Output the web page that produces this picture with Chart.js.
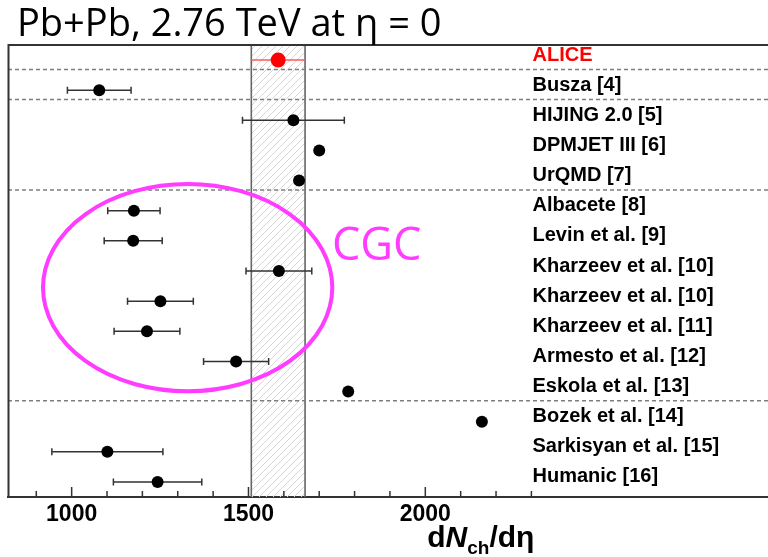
<!DOCTYPE html>
<html>
<head>
<meta charset="utf-8">
<title>dNch/deta at LHC</title>
<script src="https://cdn.jsdelivr.net/npm/chart.js@4.4.1/dist/chart.umd.min.js"></script>
<style>
  html, body { margin: 0; padding: 0; background: #fff; }
  #wrap { position: relative; width: 768px; height: 557px; }
</style>
</head>
<body>
<div id="wrap"><canvas id="dndeta-chart"></canvas></div>
<script>
/* global Chart */
// measurement first, then model predictions (top to bottom)
var models = ['ALICE', 'Busza [4]', 'HIJING 2.0 [5]', 'DPMJET III [6]', 'UrQMD [7]',
  'Albacete [8]', 'Levin et al. [9]', 'Kharzeev et al. [10]', 'Kharzeev et al. [10]',
  'Kharzeev et al. [11]', 'Armesto et al. [12]', 'Eskola et al. [13]',
  'Bozek et al. [14]', 'Sarkisyan et al. [15]', 'Humanic [16]'];
var dndeta = [1584, 1078, 1627, 1700, 1643, 1176, 1174, 1586, 1251, 1213, 1465, 1782, 2160, 1101, 1243];
var dndetaErr = [76, 90, 144, 0, 0, 74, 82, 93, 93, 93, 92, 0, 0, 157, 125];
var groupEnds = [0, 1, 4, 11];          // dashed separator under these rows
var majorTicks = [1000, 1500, 2000];
var tickRange = [900, 2300];
var titleText = 'Pb+Pb, 2.76 TeV at \u03b7 = 0';
var cgcText = 'CGC';
var cgcRegion = { x: 1328, y: 7.55, rx: 409, ry: 3.44 };   // in axis units

(function (root) {
  'use strict';
  var RED = '#ff0000';
  var MAGENTA = '#ff3cff';
  var LABEL_FONT = 'bold 20px "Liberation Sans", Arial, sans-serif';

  function hatchPattern(ctx) {
    var c = document.createElement('canvas');
    c.width = 7; c.height = 7;
    var g = c.getContext('2d');
    g.strokeStyle = '#d6d6d6';
    g.lineWidth = 1;
    g.beginPath();
    g.moveTo(-1, 8); g.lineTo(8, -1);
    g.stroke();
    return ctx.createPattern(c, 'repeat');
  }

  var overlay = {
    id: 'overlay',
    beforeDatasetsDraw: function (chart) {
      var ctx = chart.ctx, a = chart.chartArea, xs = chart.scales.x, ys = chart.scales.y;
      var bl = xs.getPixelForValue(dndeta[0] - dndetaErr[0]);
      var br = xs.getPixelForValue(dndeta[0] + dndetaErr[0]);
      ctx.save();
      // ALICE systematic band
      ctx.fillStyle = hatchPattern(ctx);
      ctx.fillRect(bl, a.top, br - bl, a.bottom - a.top);
      ctx.strokeStyle = '#666';
      ctx.lineWidth = 1.6;
      ctx.beginPath();
      ctx.moveTo(bl, a.top); ctx.lineTo(bl, a.bottom);
      ctx.moveTo(br, a.top); ctx.lineTo(br, a.bottom);
      ctx.stroke();
      // group separators
      ctx.setLineDash([4, 3]);
      ctx.strokeStyle = '#7e7e7e';
      ctx.lineWidth = 1.5;
      groupEnds.forEach(function (r) {
        var y = ys.getPixelForValue(r + 0.31);
        ctx.beginPath(); ctx.moveTo(a.left, y); ctx.lineTo(a.right, y); ctx.stroke();
      });
      ctx.setLineDash([]);
      // horizontal error bars
      dndeta.forEach(function (v, i) {
        var e = dndetaErr[i];
        if (!e) { return; }
        var y = ys.getPixelForValue(i);
        var x0 = xs.getPixelForValue(v - e), x1 = xs.getPixelForValue(v + e);
        ctx.strokeStyle = i === 0 ? '#ff5a5a' : '#333';
        ctx.lineWidth = 1.5;
        ctx.beginPath();
        ctx.moveTo(x0, y); ctx.lineTo(x1, y);
        if (i !== 0) {
          ctx.moveTo(x0, y - 3.5); ctx.lineTo(x0, y + 3.5);
          ctx.moveTo(x1, y - 3.5); ctx.lineTo(x1, y + 3.5);
        }
        ctx.stroke();
      });
      ctx.restore();
    },
    afterDraw: function (chart) {
      var ctx = chart.ctx, a = chart.chartArea, xs = chart.scales.x, ys = chart.scales.y;
      ctx.save();
      // frame: left and top edges
      ctx.strokeStyle = '#333';
      ctx.lineWidth = 2;
      ctx.beginPath();
      ctx.moveTo(a.left + 0.5, a.bottom); ctx.lineTo(a.left + 0.5, a.top); ctx.lineTo(a.right, a.top);
      ctx.stroke();
      // inward tick marks
      ctx.lineWidth = 1.5;
      ctx.beginPath();
      for (var t = tickRange[0]; t <= tickRange[1]; t += 100) {
        var px = xs.getPixelForValue(t);
        var len = majorTicks.indexOf(t) >= 0 ? 10 : 6;
        ctx.moveTo(px, a.bottom); ctx.lineTo(px, a.bottom - len);
      }
      ctx.stroke();
      // model names
      var lx = xs.getPixelForValue(2303);
      ctx.font = LABEL_FONT;
      ctx.textBaseline = 'middle';
      ctx.textAlign = 'left';
      models.forEach(function (m, i) {
        ctx.fillStyle = i === 0 ? RED : '#000';
        ctx.fillText(m, lx, ys.getPixelForValue(i) - 5);
      });
      // CGC group marker
      ctx.strokeStyle = MAGENTA;
      ctx.lineWidth = 4;
      var cx = xs.getPixelForValue(cgcRegion.x), cy = ys.getPixelForValue(cgcRegion.y);
      var rx = xs.getPixelForValue(cgcRegion.x + cgcRegion.rx) - cx;
      var ry = ys.getPixelForValue(cgcRegion.y + cgcRegion.ry) - cy;
      ctx.beginPath();
      ctx.ellipse(cx, cy, Math.abs(rx), Math.abs(ry), 0, 0, Math.PI * 2);
      ctx.stroke();
      ctx.fillStyle = MAGENTA;
      ctx.font = '45px "Open Sans", sans-serif';
      ctx.textBaseline = 'alphabetic';
      ctx.fillText(cgcText, xs.getPixelForValue(1736), ys.getPixelForValue(6.08) + 17);
      // axis title dN_ch/deta, right-aligned to the axis end
      var right = xs.getPixelForValue(tickRange[1]) + 3, base = 547;
      var parts = [
        { t: 'd', f: 'bold 30px "Liberation Sans", Arial', dy: 0 },
        { t: 'N', f: 'italic bold 30px "Liberation Sans", Arial', dy: 0 },
        { t: 'ch', f: 'bold 19px "Liberation Sans", Arial', dy: 7 },
        { t: '/d\u03b7', f: 'bold 30px "Liberation Sans", Arial', dy: 0 }
      ];
      var w = 0;
      parts.forEach(function (p) { ctx.font = p.f; p.w = ctx.measureText(p.t).width; w += p.w; });
      var x = right - w;
      ctx.fillStyle = '#000';
      parts.forEach(function (p) { ctx.font = p.f; ctx.fillText(p.t, x, base + p.dy); x += p.w; });
      // heading
      ctx.font = '38px "Open Sans", sans-serif';
      ctx.fillText(titleText, 17, 36);
      ctx.restore();
    }
  };

  var ctx = document.getElementById('dndeta-chart');
  root.dndetaChart = new Chart(ctx, {
    type: 'scatter',
    data: {
      datasets: [{
        data: dndeta.map(function (v, i) { return { x: v, y: i }; }),
        pointBackgroundColor: function (c) { return c.dataIndex === 0 ? RED : '#000'; },
        pointBorderWidth: 0,
        pointRadius: function (c) { return c.dataIndex === 0 ? 7.5 : 6; }
      }]
    },
    options: {
      responsive: true,
      maintainAspectRatio: false,
      animation: false,
      events: [],
      layout: { autoPadding: false, padding: { top: 45, left: 8, right: 0, bottom: 0 } },
      plugins: { legend: { display: false }, tooltip: { enabled: false } },
      scales: {
        x: {
          type: 'linear', min: 820, max: 2969,
          afterFit: function (s) { s.height = 60; s.paddingLeft = 0; s.paddingRight = 0; },
          grid: { display: false, drawTicks: false },
          border: { display: true, color: '#333', width: 2 },
          ticks: {
            stepSize: 100, includeBounds: false, autoSkip: false, maxRotation: 0, padding: 4,
            color: '#000', font: { family: '"Liberation Sans", Arial', size: 23, weight: 'bold' },
            callback: function (v) { return majorTicks.indexOf(v) >= 0 ? String(v) : ''; }
          }
        },
        y: { type: 'linear', min: -0.5, max: 14.5, reverse: true, display: false }
      }
    },
    plugins: [overlay]
  });
})(window);
</script>
</body>
</html>
